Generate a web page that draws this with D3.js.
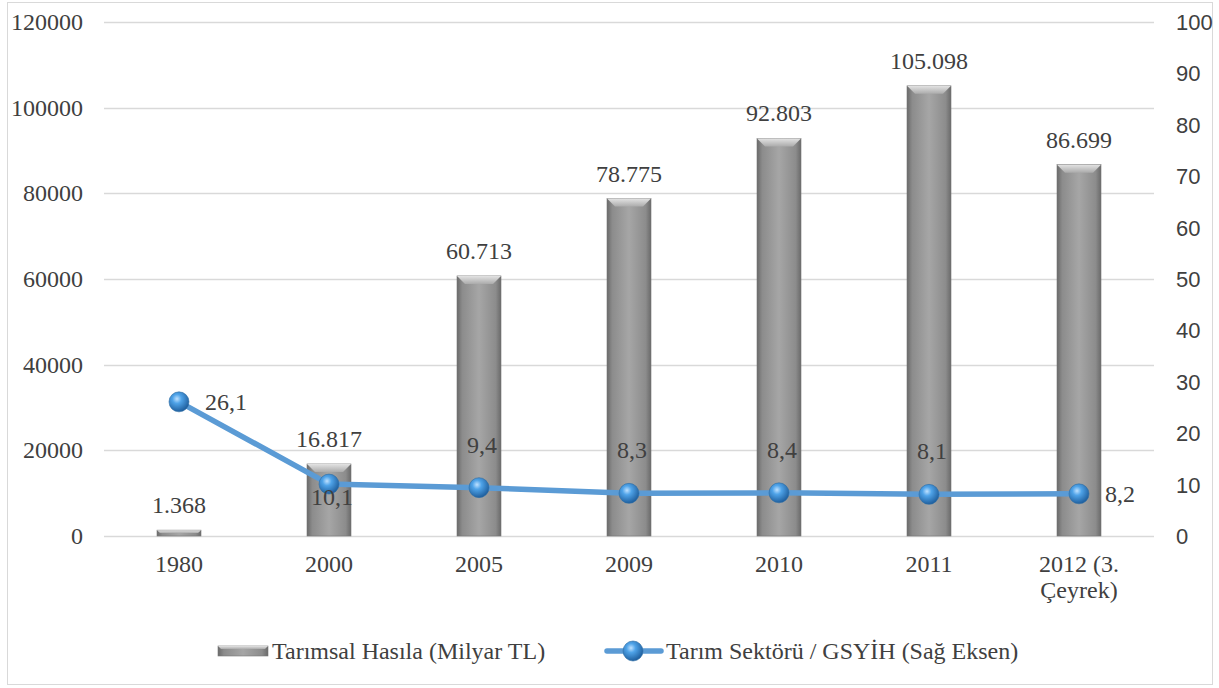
<!DOCTYPE html>
<html>
<head>
<meta charset="utf-8">
<script src="https://cdn.jsdelivr.net/npm/d3@7"></script>
<style>
  body { margin: 0; background: #fff; }
  text { fill: #404040; }
  .serif { font-family: "Liberation Serif", "DejaVu Serif", Times, serif; font-size: 24px; }
  .sans { font-family: "Liberation Sans", Arial, sans-serif; font-size: 22px; }
</style>
</head>
<body>
<div id="chart"></div>
<script>
// veriler
const years = ["1980", "2000", "2005", "2009", "2010", "2011", "2012 (3. Çeyrek)"];
const hasila = [1368, 16817, 60713, 78775, 92803, 105098, 86699];
const hasilaLabels = ["1.368", "16.817", "60.713", "78.775", "92.803", "105.098", "86.699"];
const oran = [26.1, 10.1, 9.4, 8.3, 8.4, 8.1, 8.2];
const oranLabels = ["26,1", "10,1", "9,4", "8,3", "8,4", "8,1", "8,2"];
// etiket konumu: sağ, alt, üst
const oranPos = ["right", "below", "above", "above", "above", "above", "right"];
const leftTicks = [0, 20000, 40000, 60000, 80000, 100000, 120000];
const rightTicks = [0, 10, 20, 30, 40, 50, 60, 70, 80, 90, 100];

const W = 1219, H = 688;
const plot = { left: 104, right: 1154, top: 22, bottom: 536 };

const svg = d3.select("#chart").append("svg")
    .attr("width", W).attr("height", H);

const defs = svg.append("defs");
const barGrad = defs.append("linearGradient").attr("id", "barGrad")
    .attr("x1", 0).attr("x2", 1).attr("y1", 0).attr("y2", 0);
barGrad.append("stop").attr("offset", "0%").attr("stop-color", "#6a6a6a");
barGrad.append("stop").attr("offset", "12%").attr("stop-color", "#8c8c8c");
barGrad.append("stop").attr("offset", "50%").attr("stop-color", "#a6a6a6");
barGrad.append("stop").attr("offset", "88%").attr("stop-color", "#8c8c8c");
barGrad.append("stop").attr("offset", "100%").attr("stop-color", "#6a6a6a");

const topGrad = defs.append("linearGradient").attr("id", "topGrad")
    .attr("x1", 0).attr("x2", 0).attr("y1", 0).attr("y2", 1);
topGrad.append("stop").attr("offset", "0%").attr("stop-color", "#e3e3e3");
topGrad.append("stop").attr("offset", "100%").attr("stop-color", "#ababab");

const dotGrad = defs.append("radialGradient").attr("id", "dotGrad")
    .attr("cx", "40%").attr("cy", "35%").attr("r", "65%");
dotGrad.append("stop").attr("offset", "0%").attr("stop-color", "#bfe1ff");
dotGrad.append("stop").attr("offset", "35%").attr("stop-color", "#4fa3e8");
dotGrad.append("stop").attr("offset", "100%").attr("stop-color", "#1f5f9e");

// çerçeve
svg.append("rect")
    .attr("x", 7.5).attr("y", 2.5).attr("width", 1205).attr("height", 682)
    .attr("fill", "none").attr("stroke", "#d9d9d9");

const x = d3.scaleBand().domain(years).range([plot.left, plot.right]);
const yL = d3.scaleLinear().domain([0, 120000]).range([plot.bottom, plot.top]);
const yR = d3.scaleLinear().domain([0, 100]).range([plot.bottom, plot.top]);
const cx = d => x(d) + x.bandwidth() / 2;

// ızgara
svg.append("g").selectAll("line")
    .data(leftTicks).enter().append("line")
    .attr("x1", plot.left).attr("x2", plot.right)
    .attr("y1", d => Math.round(yL(d)) + 0.5).attr("y2", d => Math.round(yL(d)) + 0.5)
    .attr("stroke", "#d9d9d9").attr("stroke-width", 1.5);

// sol eksen
svg.append("g").selectAll("text")
    .data(leftTicks).enter().append("text")
    .attr("class", "serif")
    .attr("x", 83).attr("y", d => yL(d) + 8)
    .attr("text-anchor", "end")
    .text(d => d);

// sağ eksen
svg.append("g").selectAll("text")
    .data(rightTicks).enter().append("text")
    .attr("class", "sans")
    .attr("x", 1176).attr("y", d => yR(d) + 8)
    .text(d => d);

// çubuklar
const barW = 44;
const bars = svg.append("g").selectAll("g")
    .data(years).enter().append("g");

bars.append("rect")
    .attr("x", d => cx(d) - barW / 2)
    .attr("y", (d, i) => yL(hasila[i]))
    .attr("width", barW)
    .attr("height", (d, i) => plot.bottom - yL(hasila[i]))
    .attr("fill", "url(#barGrad)")
    .attr("stroke", "#777").attr("stroke-width", 0.6);

// üst eğim
bars.append("path")
    .attr("d", (d, i) => {
        const x0 = cx(d) - barW / 2, x1 = x0 + barW;
        const t = yL(hasila[i]);
        const b = Math.min(8, (plot.bottom - t) / 2);
        return `M${x0},${t}L${x1},${t}L${x1 - b},${t + b}L${x0 + b},${t + b}Z`;
    })
    .attr("fill", "url(#topGrad)");

svg.append("g").selectAll("text")
    .data(years).enter().append("text")
    .attr("class", "serif")
    .attr("x", d => cx(d))
    .attr("y", (d, i) => yL(hasila[i]) - 17)
    .attr("text-anchor", "middle")
    .text((d, i) => hasilaLabels[i]);

// çizgi
const line = d3.line()
    .x(d => cx(d))
    .y((d, i) => yR(oran[i]));

svg.append("path")
    .datum(years)
    .attr("d", line)
    .attr("fill", "none")
    .attr("stroke", "#5b9bd5")
    .attr("stroke-width", 5.5)
    .attr("stroke-linejoin", "round");

svg.append("g").selectAll("circle")
    .data(years).enter().append("circle")
    .attr("cx", d => cx(d))
    .attr("cy", (d, i) => yR(oran[i]))
    .attr("r", 10)
    .attr("fill", "url(#dotGrad)")
    .attr("stroke", "#2e6da4").attr("stroke-width", 0.6);

svg.append("g").selectAll("text")
    .data(years).enter().append("text")
    .attr("class", "serif")
    .attr("x", (d, i) => cx(d) + (oranPos[i] === "right" ? 26 : 3))
    .attr("y", (d, i) => {
        const c = yR(oran[i]);
        if (oranPos[i] === "above") return c - 35;
        if (oranPos[i] === "below") return c + 21;
        return c + 8;
    })
    .attr("text-anchor", (d, i) => oranPos[i] === "right" ? "start" : "middle")
    .text((d, i) => oranLabels[i]);

// kategori etiketleri
const catLabels = svg.append("g").selectAll("text")
    .data(years).enter().append("text")
    .attr("class", "serif")
    .attr("x", d => cx(d))
    .attr("y", 572)
    .attr("text-anchor", "middle");

catLabels.each(function (d) {
    const parts = d === "2012 (3. Çeyrek)" ? ["2012 (3.", "Çeyrek)"] : [d];
    const t = d3.select(this);
    parts.forEach((p, k) => {
        t.append("tspan")
            .attr("x", cx(d))
            .attr("dy", k === 0 ? 0 : 26)
            .text(p);
    });
});

// lejant
const leg = svg.append("g");
leg.append("rect")
    .attr("x", 218).attr("y", 646).attr("width", 50).attr("height", 10)
    .attr("fill", "url(#barGrad)").attr("stroke", "#777").attr("stroke-width", 0.6);
leg.append("path")
    .attr("d", "M218,646L268,646L265,649L221,649Z")
    .attr("fill", "url(#topGrad)");
leg.append("text")
    .attr("class", "serif")
    .attr("x", 272).attr("y", 659)
    .text("Tarımsal Hasıla (Milyar TL)");

leg.append("line")
    .attr("x1", 607).attr("x2", 661).attr("y1", 651).attr("y2", 651)
    .attr("stroke", "#5b9bd5").attr("stroke-width", 5.5).attr("stroke-linecap", "round");
leg.append("circle")
    .attr("cx", 633).attr("cy", 651).attr("r", 10)
    .attr("fill", "url(#dotGrad)").attr("stroke", "#2e6da4").attr("stroke-width", 0.6);
leg.append("text")
    .attr("class", "serif")
    .attr("x", 666).attr("y", 659)
    .text("Tarım Sektörü / GSYİH (Sağ Eksen)");
</script>
</body>
</html>
